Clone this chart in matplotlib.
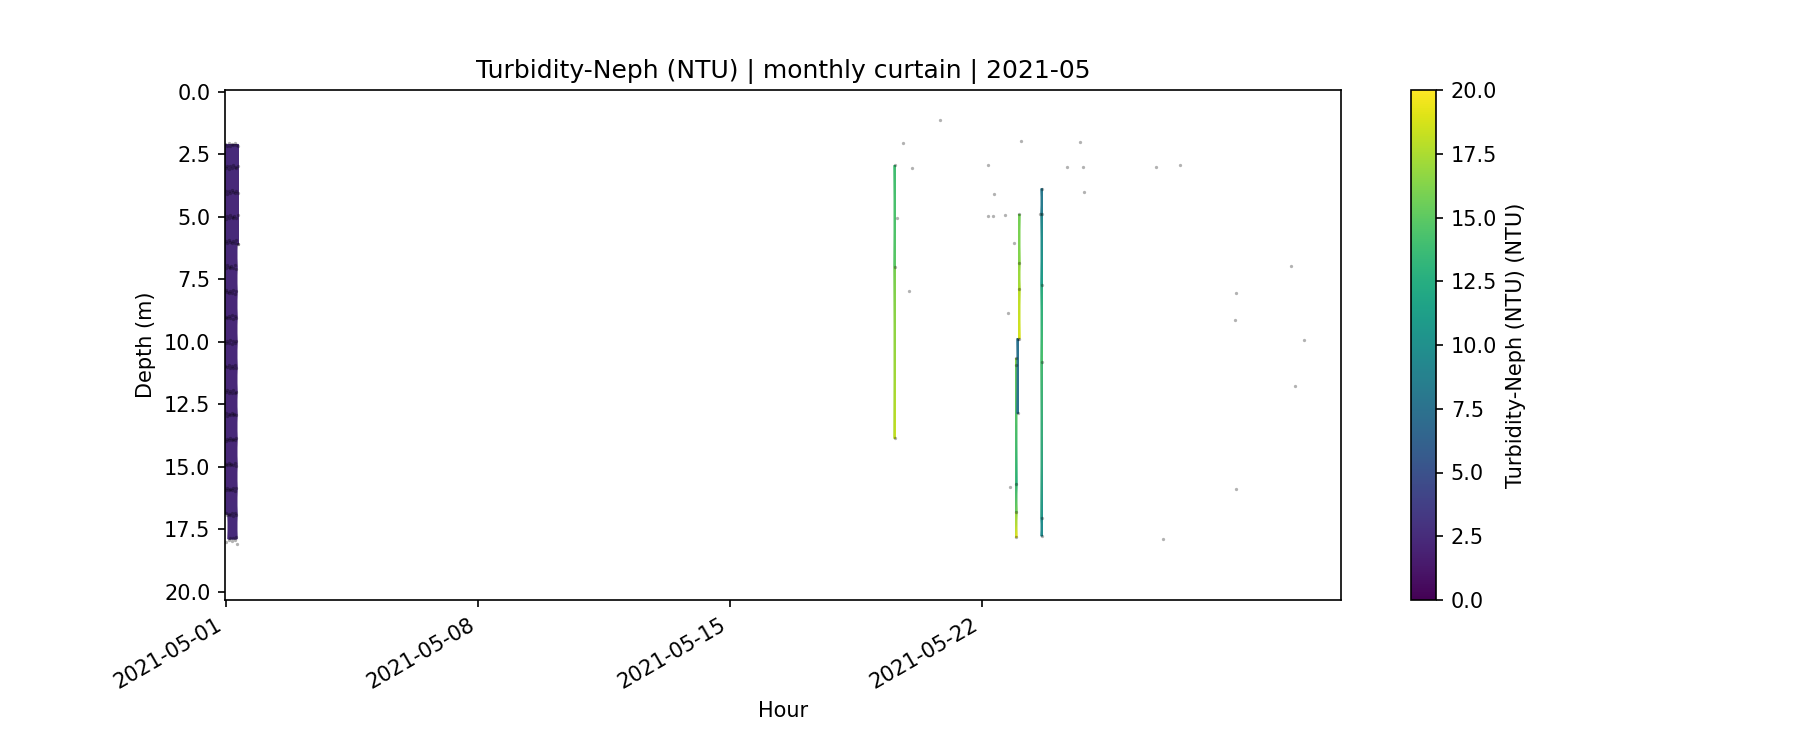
import numpy as np
import pandas as pd
import matplotlib
matplotlib.use("Agg")
import matplotlib.pyplot as plt
import matplotlib.dates as mdates

# dense casts at the start of the month (hourly bins)
block_hours = ["2021-05-01 00:00", "2021-05-01 01:00", "2021-05-01 02:00",
               "2021-05-01 03:00", "2021-05-01 04:00", "2021-05-01 05:00",
               "2021-05-01 06:00", "2021-05-01 07:00", "2021-05-01 08:00"]
block_max_depth = [16.9, 16.9, 17.9, 17.9, 17.9, 17.9, 17.9, 17.9, 6.1]
block_depths = [2.1, 3.0, 4.0, 5.0, 6.0, 7.0, 8.0, 9.0, 10.0, 11.0, 12.0,
                12.9, 13.9, 14.9, 15.9, 16.9, 17.9]
block_values = [2.4, 2.4, 2.3, 2.3, 2.4, 2.3, 2.3, 2.2, 2.3, 2.3, 2.2,
                2.3, 2.3, 2.2, 2.3, 2.4, 2.4]
# small time offsets of the casts inside each hour (minutes)
block_offsets = [-10, 5, -5, 10, 0, -8, 8, -3, 3, -10, 6, -6, 10, -2, 4, -9, 7]
# small depth scatter of the casts around the nominal depths (m)
block_jitter = [0.0, 0.05, -0.05, 0.08, -0.03, 0.04, -0.07, 0.02, 0.06, -0.04, 0.03,
                -0.06, 0.07, -0.02, 0.05, -0.05, 0.04]

# later profiles with more than one sample in the hour
profile_times = ["2021-05-19 14:00", "2021-05-22 23:00", "2021-05-23 00:00",
                 "2021-05-23 01:00", "2021-05-23 16:00"]
profile_depths = [
    [2.94, 6.99, 13.87],
    [10.67, 10.94, 15.70, 16.82, 17.83],
    [9.87, 12.87],
    [4.90, 6.83, 7.87, 9.87],
    [3.87, 4.87, 7.71, 10.83, 17.05, 17.78],
]
profile_values = [
    [13.5, 15.0, 18.5],
    [16.5, 16.0, 12.5, 16.0, 19.5],
    [7.5, 7.5],
    [15.5, 16.5, 17.5, 19.0],
    [8.0, 8.5, 11.5, 14.5, 10.0, 9.5],
]

# single samples (no curtain cell drawn)
single_times = ["2021-05-01 00:24", "2021-05-01 07:43",
                "2021-05-19 15:50", "2021-05-19 19:40", "2021-05-19 23:46",
                "2021-05-20 01:40", "2021-05-20 20:24", "2021-05-22 04:19",
                "2021-05-22 04:19", "2021-05-22 07:41", "2021-05-22 08:24",
                "2021-05-22 15:36", "2021-05-22 17:46", "2021-05-22 18:58",
                "2021-05-22 21:36", "2021-05-23 02:24", "2021-05-23 14:38",
                "2021-05-24 08:53", "2021-05-24 17:46", "2021-05-24 19:41",
                "2021-05-24 20:24", "2021-05-26 20:24", "2021-05-27 00:58",
                "2021-05-27 12:14", "2021-05-29 00:58", "2021-05-29 01:41",
                "2021-05-29 01:41", "2021-05-30 14:10", "2021-05-30 16:48",
                "2021-05-30 22:48"]
single_depths = [18.0, 18.1,
                 5.03, 2.03, 7.97,
                 3.03, 1.11, 2.91,
                 4.95, 4.95, 4.07,
                 4.91, 8.83, 15.83,
                 6.03, 1.95, 4.87,
                 2.99, 1.99, 2.99,
                 3.99, 2.99, 17.91,
                 2.91, 9.11, 8.03,
                 15.91, 6.95, 11.79,
                 9.91]

VMIN, VMAX = 0, 20


def draw_column(ax, t, depths, values):
    x0 = mdates.date2num(pd.Timestamp(t) - pd.Timedelta(minutes=30))
    x1 = mdates.date2num(pd.Timestamp(t) + pd.Timedelta(minutes=30))
    n = len(depths)
    X = np.column_stack([np.full(n, x0), np.full(n, x1)])
    Y = np.column_stack([depths, depths])
    C = np.column_stack([values, values])
    return ax.pcolormesh(X, Y, C, shading="gouraud", cmap="viridis",
                         vmin=VMIN, vmax=VMAX)


fig, ax = plt.subplots(figsize=(12, 5), dpi=150)

pts_t, pts_d = [], []
mesh = None
for i, (t, dmax) in enumerate(zip(block_hours, block_max_depth)):
    d = [x for x in block_depths if x <= dmax + 0.05]
    v = block_values[:len(d)]
    if d[-1] < dmax:
        d = d + [dmax]
        v = v + [block_values[len(d) - 2]]
    mesh = draw_column(ax, t, d, v)
    ts = pd.Timestamp(t)
    k = len(d)
    offs = block_offsets[i:] + block_offsets[:i]
    jit = block_jitter[i:] + block_jitter[:i]
    pts_t += [ts + pd.Timedelta(minutes=m) for m in offs[:k]]
    pts_d += [a + b for a, b in zip(d, jit[:k])]

for t, d, v in zip(profile_times, profile_depths, profile_values):
    mesh = draw_column(ax, t, d, v)
    pts_t += [pd.Timestamp(t)] * len(d)
    pts_d += d

pts_t += list(pd.to_datetime(single_times))
pts_d += single_depths

ax.scatter(mdates.date2num(pd.to_datetime(pts_t)), pts_d, s=2.5, c="k",
           alpha=0.3, linewidths=0, zorder=3)

ax.xaxis_date()
ax.xaxis.set_major_locator(mdates.DayLocator(bymonthday=[1, 8, 15, 22]))
ax.xaxis.set_major_formatter(mdates.DateFormatter("%Y-%m-%d"))
ax.set_xlim(mdates.date2num(pd.Timestamp("2021-05-01 00:00") - pd.Timedelta(minutes=30)),
            mdates.date2num(pd.Timestamp("2021-05-31 23:30")))
ax.set_ylim(20.34, -0.08)

ax.set_title("Turbidity-Neph (NTU) | monthly curtain | 2021-05")
ax.set_xlabel("Hour")
ax.set_ylabel("Depth (m)")

fig.colorbar(mesh, ax=ax, label="Turbidity-Neph (NTU) (NTU)")
fig.autofmt_xdate()

plt.savefig("out.png")
plt.close()
